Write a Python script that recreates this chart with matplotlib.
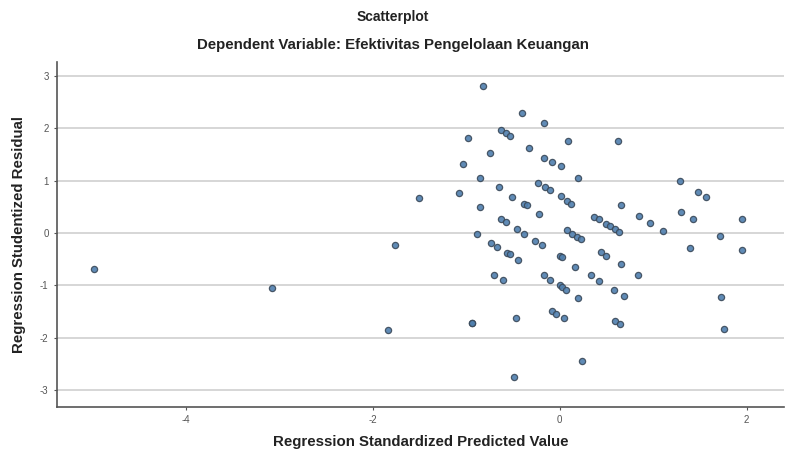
import numpy as np
import matplotlib
matplotlib.use("Agg")
import matplotlib.pyplot as plt

# standardized predicted values (x) and studentized residuals (y)
pred = [
    -4.98, -3.08, -1.84, -1.76, -1.51,
    -1.08, -1.04, -0.98, -0.82, -0.85, -0.85, -0.89, -0.94,
    -0.75, -0.65, -0.63, -0.58, -0.53, -0.40, -0.33, -0.17, -0.17, -0.08, 0.01,
    -0.23, -0.16, -0.10, 0.01, 0.08, 0.12, 0.085, 0.62, 0.19,
    -0.51, -0.38, -0.35, -0.22, -0.63, -0.58, -0.46, -0.38,
    0.37, 0.42, 0.49, 0.54, 0.59, 0.63, 0.66, 0.85,
    0.08, 0.13, 0.18, 0.23,
    -0.74, -0.67, -0.26, -0.19, -0.56, -0.53, -0.45,
    -0.70, -0.61, -0.17, -0.10,
    0.00, 0.02, 0.16, 0.44, 0.50, 0.66, 0.84, 0.33, 0.42,
    0.00, 0.02, 0.07, 0.20, 0.58, 0.69,
    -0.08, -0.04, 0.05, 0.59, 0.65, -0.47, -0.94, 0.24, -0.49,
    1.29, 1.48, 1.57, 0.97, 1.10, 1.30, 1.43, 1.95, 1.71, 1.39, 1.95, 1.73, 1.76,
]
resid = [
    -0.69, -1.06, -1.86, -0.22, 0.67,
    0.76, 1.31, 1.81, 2.80, 1.06, 0.50, -0.02, -1.72,
    1.53, 0.87, 1.97, 1.91, 1.85, 2.29, 1.63, 2.11, 1.44, 1.36, 1.28,
    0.95, 0.88, 0.83, 0.70, 0.62, 0.56, 1.76, 1.76, 1.06,
    0.69, 0.56, 0.53, 0.37, 0.26, 0.21, 0.08, -0.01,
    0.31, 0.26, 0.17, 0.13, 0.08, 0.02, 0.53, 0.32,
    0.05, -0.01, -0.08, -0.11,
    -0.20, -0.27, -0.15, -0.23, -0.38, -0.41, -0.52,
    -0.81, -0.90, -0.81, -0.90,
    -0.43, -0.46, -0.64, -0.36, -0.44, -0.60, -0.81, -0.81, -0.92,
    -1.00, -1.04, -1.08, -1.25, -1.09, -1.21,
    -1.49, -1.54, -1.63, -1.68, -1.73, -1.63, -1.72, -2.44, -2.75,
    0.99, 0.78, 0.68, 0.19, 0.04, 0.40, 0.26, 0.26, -0.06, -0.29, -0.33, -1.22, -1.84,
]

x_ticks = [-4, -2, 0, 2]
y_ticks = [-3, -2, -1, 0, 1, 2, 3]

plt.rcParams["font.family"] = ["Liberation Sans", "DejaVu Sans"]
plt.rcParams["axes.unicode_minus"] = False

fig = plt.figure(figsize=(7.86, 4.55), dpi=100)
ax = fig.add_axes([0.0725, 0.106, 0.925, 0.758])

for y in y_ticks:
    ax.axhline(y, color="#cfcfcf", linewidth=1.2, zorder=0)

ax.scatter(pred, resid, s=20, facecolor="#4f7fae", edgecolor="#3b4a5a",
           linewidth=0.9, alpha=0.9, zorder=3)

ax.set_xlim(-5.38, 2.40)
ax.set_ylim(-3.32, 3.27)
ax.set_xticks(x_ticks)
ax.set_yticks(y_ticks)
ax.tick_params(labelsize=7, colors="#555555", length=2.5, width=0.8)

for side in ["top", "right"]:
    ax.spines[side].set_visible(False)
for side in ["left", "bottom"]:
    ax.spines[side].set_color("#555555")
    ax.spines[side].set_linewidth(1.2)

ax.set_xlabel("Regression Standardized Predicted Value", fontsize=10.8,
              fontweight="bold", color="#222222", labelpad=7)
ax.set_ylabel("Regression Studentized Residual", fontsize=10.8,
              fontweight="bold", color="#222222", labelpad=10)

fig.text(0.5, 0.962, "Scatterplot", ha="center", va="center",
         fontsize=10, fontweight="bold", color="#222222")
fig.text(0.5, 0.9, "Dependent Variable: Efektivitas Pengelolaan Keuangan",
         ha="center", va="center", fontsize=10.8, fontweight="bold", color="#222222")

fig.savefig("out.png", dpi=100)
